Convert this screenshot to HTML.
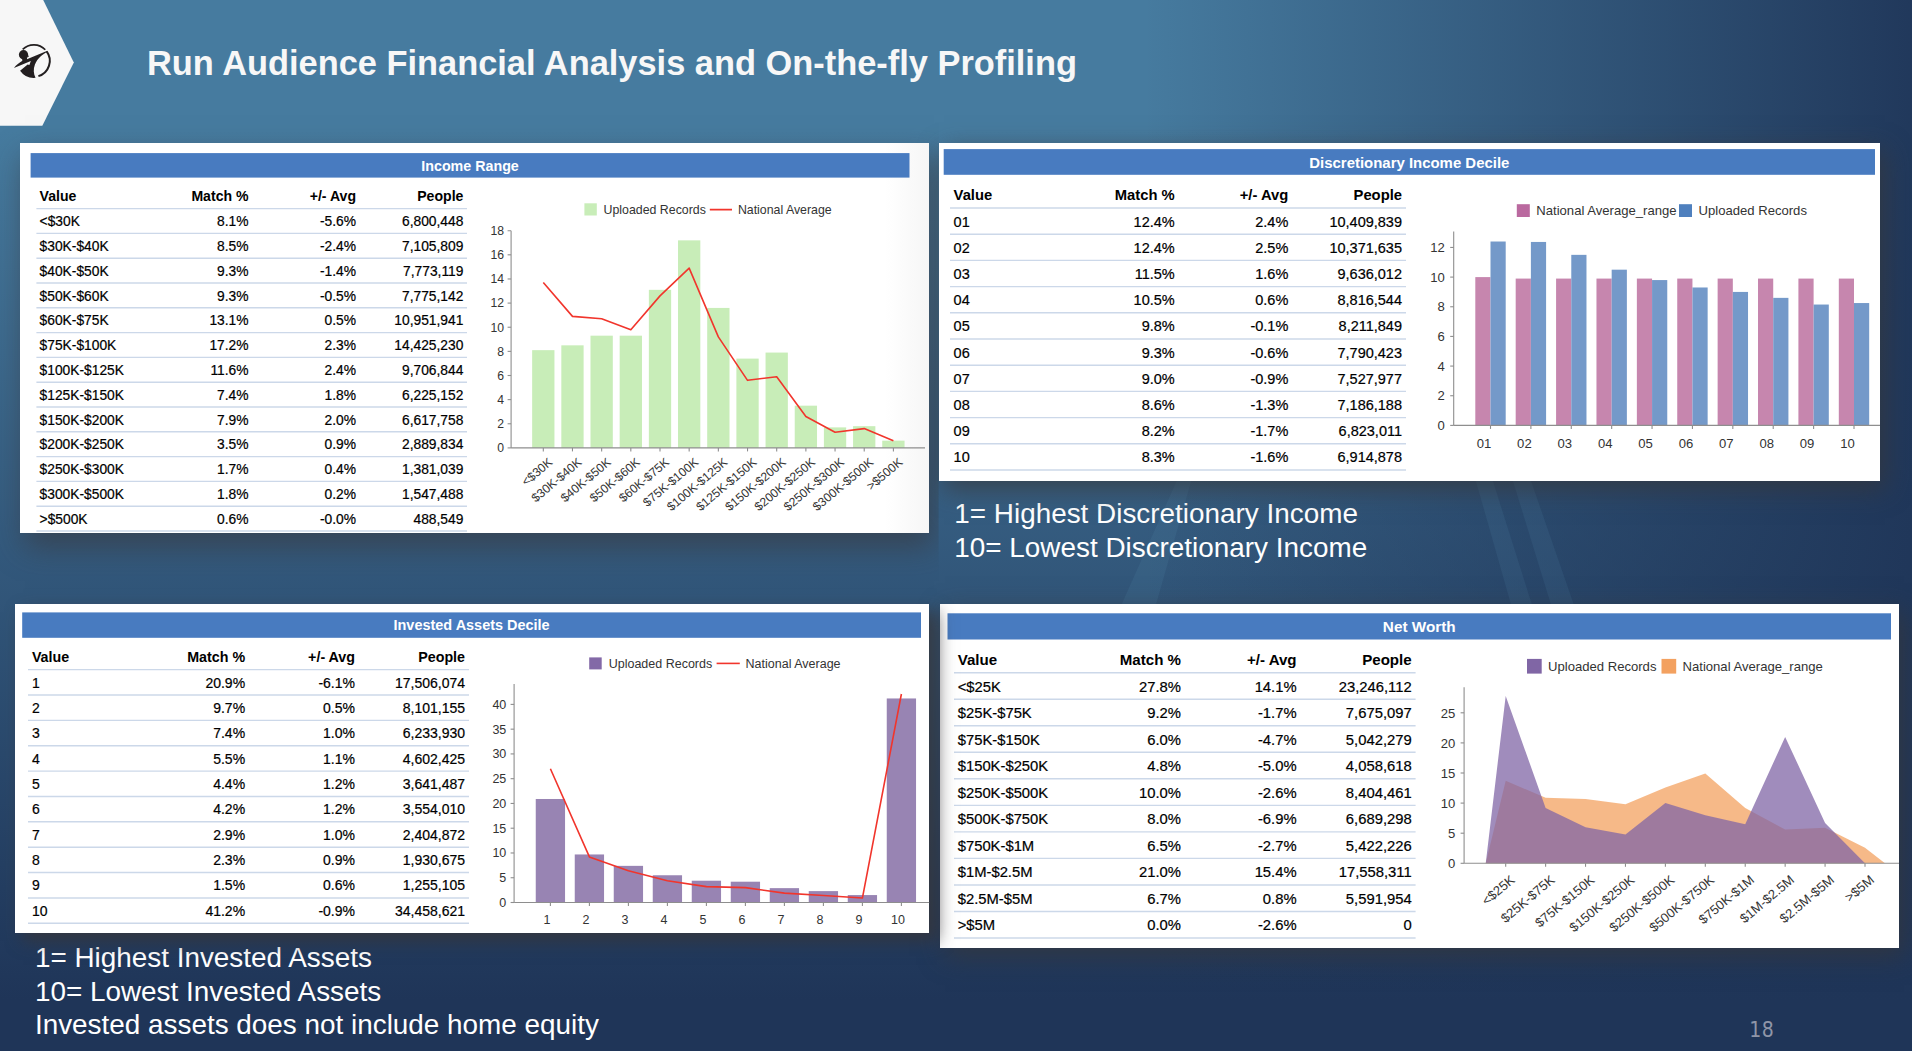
<!DOCTYPE html>
<html lang="en"><head><meta charset="utf-8"><title>Run Audience Financial Analysis and On-the-fly Profiling</title>
<style>
html,body{margin:0;padding:0;}
body{width:1912px;height:1051px;overflow:hidden;position:relative;background:#1f3558;font-family:"Liberation Sans",Arial,Helvetica,sans-serif;}
.abs{position:absolute;}
#bg1{left:0;top:0;width:1912px;height:1051px;background:linear-gradient(to bottom,#467b9f 0px,#467b9f 130px,#1f3558 1000px);}
#bg2{left:0;top:0;width:1912px;height:1051px;background:linear-gradient(to right,rgba(31,53,88,0) 0px,rgba(31,53,88,0) 1144px,rgba(31,53,88,0.95) 1912px);}
.panel{position:absolute;background:#fff;}
.bar{position:absolute;color:#fff;font-weight:bold;text-align:center;white-space:nowrap;}
.cell{position:absolute;white-space:nowrap;color:#000;-webkit-text-stroke:0.2px #000;}
.r{text-align:right;}
.b{font-weight:bold;-webkit-text-stroke:0;}
.note{position:absolute;color:#fff;white-space:nowrap;}
svg{position:absolute;left:0;top:0;overflow:visible;}
svg text{font-family:"Liberation Sans",Arial,Helvetica,sans-serif;fill:#333;}
</style></head>
<body>
<div id="bg1" class="abs"></div><div id="bg2" class="abs"></div>
<svg width="1912" height="1051" viewBox="0 0 1912 1051"><g fill="#6fb0d8" fill-opacity="0.09"><polygon points="1178,478 1192,478 1155,608 1120,608"/><polygon points="1475,478 1492,478 1533,608 1512,608"/><polygon points="1512,478 1530,478 1575,608 1552,608"/></g></svg>
<svg width="80" height="127" viewBox="0 0 80 127"><polygon points="0,0 43.2,0 73.8,62.5 42.3,125.8 0,125.8" fill="#f7f7f7"/><g transform="translate(8 38) scale(0.04566)" fill="#231f20"><path d="M321.9,248.2 A350 350 0 0 1 816.8,256.9" fill="none" stroke="#231f20" stroke-width="38"/><path d="M846.7,292.3 A350 350 0 0 1 665.6,835.2" fill="none" stroke="#231f20" stroke-width="44"/><circle cx="340" cy="367" r="102"/><path d="M400,330 L458,398 L430,425 Z"/><path d="M130,655 C180,590 250,545 300,510 C322,495 320,470 296,450 L420,425 L415,465 L850,283 L862,300 C760,350 640,450 590,580 C550,680 560,790 603,872 A370 370 0 0 1 265,715 L430,582 L468,592 L500,505 Z"/></g></svg>
<div class="abs" id="title" style="left:147px;top:41px;height:44px;line-height:44px;font-size:34.4px;font-weight:bold;color:#f7f7f7;white-space:nowrap;">Run Audience Financial Analysis and On-the-fly Profiling</div>
<div class="panel" id="p1" style="left:20px;top:143px;width:909px;height:390px;z-index:2;box-shadow:5px 14px 28px rgba(56,54,56,0.6);clip-path:inset(-90px -9.6px -90px -90px);background:linear-gradient(to right,#fff 0,#fff 865px,#f6f6f6 100%);">
<svg width="909" height="390" viewBox="20 143 909 390">
<rect x="30.6" y="153.1" width="878.9" height="24.5" fill="#487bc0"/>
<line x1="36.4" y1="208.6" x2="467" y2="208.6" stroke="#ccd8e9" stroke-width="1.4"/>
<line x1="36.4" y1="233.4" x2="467" y2="233.4" stroke="#ccd8e9" stroke-width="1.4"/>
<line x1="36.4" y1="258.2" x2="467" y2="258.2" stroke="#ccd8e9" stroke-width="1.4"/>
<line x1="36.4" y1="283" x2="467" y2="283" stroke="#ccd8e9" stroke-width="1.4"/>
<line x1="36.4" y1="307.8" x2="467" y2="307.8" stroke="#ccd8e9" stroke-width="1.4"/>
<line x1="36.4" y1="332.6" x2="467" y2="332.6" stroke="#ccd8e9" stroke-width="1.4"/>
<line x1="36.4" y1="357.4" x2="467" y2="357.4" stroke="#ccd8e9" stroke-width="1.4"/>
<line x1="36.4" y1="382.2" x2="467" y2="382.2" stroke="#ccd8e9" stroke-width="1.4"/>
<line x1="36.4" y1="407" x2="467" y2="407" stroke="#ccd8e9" stroke-width="1.4"/>
<line x1="36.4" y1="431.8" x2="467" y2="431.8" stroke="#ccd8e9" stroke-width="1.4"/>
<line x1="36.4" y1="456.6" x2="467" y2="456.6" stroke="#ccd8e9" stroke-width="1.4"/>
<line x1="36.4" y1="481.4" x2="467" y2="481.4" stroke="#ccd8e9" stroke-width="1.4"/>
<line x1="36.4" y1="506.2" x2="467" y2="506.2" stroke="#ccd8e9" stroke-width="1.4"/>
<line x1="36.4" y1="531" x2="467" y2="531" stroke="#ccd8e9" stroke-width="1.4"/>
<rect x="532.15" y="350.16" width="22.3" height="97.74" fill="#c8edb8"/>
<rect x="561.32" y="345.33" width="22.3" height="102.57" fill="#c8edb8"/>
<rect x="590.5" y="335.68" width="22.3" height="112.22" fill="#c8edb8"/>
<rect x="619.67" y="335.68" width="22.3" height="112.22" fill="#c8edb8"/>
<rect x="648.85" y="289.83" width="22.3" height="158.07" fill="#c8edb8"/>
<rect x="678.02" y="240.35" width="22.3" height="207.55" fill="#c8edb8"/>
<rect x="707.2" y="307.93" width="22.3" height="139.97" fill="#c8edb8"/>
<rect x="736.38" y="358.61" width="22.3" height="89.29" fill="#c8edb8"/>
<rect x="765.55" y="352.57" width="22.3" height="95.33" fill="#c8edb8"/>
<rect x="794.73" y="405.67" width="22.3" height="42.23" fill="#c8edb8"/>
<rect x="823.9" y="427.39" width="22.3" height="20.51" fill="#c8edb8"/>
<rect x="853.07" y="426.18" width="22.3" height="21.72" fill="#c8edb8"/>
<rect x="882.25" y="440.66" width="22.3" height="7.24" fill="#c8edb8"/>
<line x1="511.1" y1="230.7" x2="511.1" y2="447.9" stroke="#8e8e8e" stroke-width="1.1"/>
<line x1="507.6" y1="447.9" x2="511.1" y2="447.9" stroke="#8e8e8e" stroke-width="1.1"/>
<text x="504" y="452.29" font-size="12.2" text-anchor="end">0</text>
<line x1="507.6" y1="423.77" x2="511.1" y2="423.77" stroke="#8e8e8e" stroke-width="1.1"/>
<text x="504" y="428.16" font-size="12.2" text-anchor="end">2</text>
<line x1="507.6" y1="399.63" x2="511.1" y2="399.63" stroke="#8e8e8e" stroke-width="1.1"/>
<text x="504" y="404.03" font-size="12.2" text-anchor="end">4</text>
<line x1="507.6" y1="375.5" x2="511.1" y2="375.5" stroke="#8e8e8e" stroke-width="1.1"/>
<text x="504" y="379.89" font-size="12.2" text-anchor="end">6</text>
<line x1="507.6" y1="351.37" x2="511.1" y2="351.37" stroke="#8e8e8e" stroke-width="1.1"/>
<text x="504" y="355.76" font-size="12.2" text-anchor="end">8</text>
<line x1="507.6" y1="327.23" x2="511.1" y2="327.23" stroke="#8e8e8e" stroke-width="1.1"/>
<text x="504" y="331.63" font-size="12.2" text-anchor="end">10</text>
<line x1="507.6" y1="303.1" x2="511.1" y2="303.1" stroke="#8e8e8e" stroke-width="1.1"/>
<text x="504" y="307.49" font-size="12.2" text-anchor="end">12</text>
<line x1="507.6" y1="278.97" x2="511.1" y2="278.97" stroke="#8e8e8e" stroke-width="1.1"/>
<text x="504" y="283.36" font-size="12.2" text-anchor="end">14</text>
<line x1="507.6" y1="254.83" x2="511.1" y2="254.83" stroke="#8e8e8e" stroke-width="1.1"/>
<text x="504" y="259.23" font-size="12.2" text-anchor="end">16</text>
<line x1="507.6" y1="230.7" x2="511.1" y2="230.7" stroke="#8e8e8e" stroke-width="1.1"/>
<text x="504" y="235.09" font-size="12.2" text-anchor="end">18</text>
<line x1="511.1" y1="447.9" x2="925" y2="447.9" stroke="#8e8e8e" stroke-width="1.1"/>
<line x1="543.3" y1="447.9" x2="543.3" y2="451.4" stroke="#8e8e8e" stroke-width="1.1"/>
<line x1="572.47" y1="447.9" x2="572.47" y2="451.4" stroke="#8e8e8e" stroke-width="1.1"/>
<line x1="601.65" y1="447.9" x2="601.65" y2="451.4" stroke="#8e8e8e" stroke-width="1.1"/>
<line x1="630.82" y1="447.9" x2="630.82" y2="451.4" stroke="#8e8e8e" stroke-width="1.1"/>
<line x1="660" y1="447.9" x2="660" y2="451.4" stroke="#8e8e8e" stroke-width="1.1"/>
<line x1="689.17" y1="447.9" x2="689.17" y2="451.4" stroke="#8e8e8e" stroke-width="1.1"/>
<line x1="718.35" y1="447.9" x2="718.35" y2="451.4" stroke="#8e8e8e" stroke-width="1.1"/>
<line x1="747.52" y1="447.9" x2="747.52" y2="451.4" stroke="#8e8e8e" stroke-width="1.1"/>
<line x1="776.7" y1="447.9" x2="776.7" y2="451.4" stroke="#8e8e8e" stroke-width="1.1"/>
<line x1="805.88" y1="447.9" x2="805.88" y2="451.4" stroke="#8e8e8e" stroke-width="1.1"/>
<line x1="835.05" y1="447.9" x2="835.05" y2="451.4" stroke="#8e8e8e" stroke-width="1.1"/>
<line x1="864.22" y1="447.9" x2="864.22" y2="451.4" stroke="#8e8e8e" stroke-width="1.1"/>
<line x1="893.4" y1="447.9" x2="893.4" y2="451.4" stroke="#8e8e8e" stroke-width="1.1"/>
<polyline fill="none" stroke="#f1352c" stroke-width="1.6" stroke-linejoin="round" points="543.3,282.59 572.47,316.37 601.65,318.79 630.82,329.65 660,295.86 689.17,268.11 718.35,336.89 747.52,380.33 776.7,376.71 805.88,416.53 835.05,432.21 864.22,428.59 893.4,440.66"/>
<text transform="translate(553.3 463.6) rotate(-40)" font-size="12.2" text-anchor="end">&lt;$30K</text>
<text transform="translate(582.47 463.6) rotate(-40)" font-size="12.2" text-anchor="end">$30K-$40K</text>
<text transform="translate(611.65 463.6) rotate(-40)" font-size="12.2" text-anchor="end">$40K-$50K</text>
<text transform="translate(640.82 463.6) rotate(-40)" font-size="12.2" text-anchor="end">$50K-$60K</text>
<text transform="translate(670 463.6) rotate(-40)" font-size="12.2" text-anchor="end">$60K-$75K</text>
<text transform="translate(699.17 463.6) rotate(-40)" font-size="12.2" text-anchor="end">$75K-$100K</text>
<text transform="translate(728.35 463.6) rotate(-40)" font-size="12.2" text-anchor="end">$100K-$125K</text>
<text transform="translate(757.52 463.6) rotate(-40)" font-size="12.2" text-anchor="end">$125K-$150K</text>
<text transform="translate(786.7 463.6) rotate(-40)" font-size="12.2" text-anchor="end">$150K-$200K</text>
<text transform="translate(815.88 463.6) rotate(-40)" font-size="12.2" text-anchor="end">$200K-$250K</text>
<text transform="translate(845.05 463.6) rotate(-40)" font-size="12.2" text-anchor="end">$250K-$300K</text>
<text transform="translate(874.22 463.6) rotate(-40)" font-size="12.2" text-anchor="end">$300K-$500K</text>
<text transform="translate(903.4 463.6) rotate(-40)" font-size="12.2" text-anchor="end">&gt;$500K</text>
<rect x="584.4" y="203.3" width="12.4" height="12.2" fill="#c8edb8"/>
<text x="603.6" y="213.8" font-size="12.35">Uploaded Records</text>
<line x1="709.8" y1="209.6" x2="732" y2="209.6" stroke="#f1352c" stroke-width="1.6"/>
<text x="737.9" y="213.8" font-size="12.35">National Average</text>
</svg>
<div class="bar" style="left:10.6px;top:10.8px;width:878.9px;height:24.5px;line-height:24.5px;font-size:14.27px;">Income Range</div>
<div class="cell b" style="left:19.6px;top:40.6px;height:24.8px;line-height:24.8px;font-size:14.08px;">Value</div>
<div class="cell b r" style="left:108.5px;width:120px;top:40.6px;height:24.8px;line-height:24.8px;font-size:14.08px;">Match %</div>
<div class="cell b r" style="left:216px;width:120px;top:40.6px;height:24.8px;line-height:24.8px;font-size:14.08px;">+/- Avg</div>
<div class="cell b r" style="left:323.4px;width:120px;top:40.6px;height:24.8px;line-height:24.8px;font-size:14.08px;">People</div>
<div class="cell" style="left:19.6px;top:67.4px;height:24.8px;line-height:24.8px;font-size:13.8px;">&lt;$30K</div>
<div class="cell r" style="left:108.5px;width:120px;top:67.4px;height:24.8px;line-height:24.8px;font-size:13.8px;">8.1%</div>
<div class="cell r" style="left:216px;width:120px;top:67.4px;height:24.8px;line-height:24.8px;font-size:13.8px;">-5.6%</div>
<div class="cell r" style="left:323.4px;width:120px;top:67.4px;height:24.8px;line-height:24.8px;font-size:13.8px;">6,800,448</div>
<div class="cell" style="left:19.6px;top:92.2px;height:24.8px;line-height:24.8px;font-size:13.8px;">$30K-$40K</div>
<div class="cell r" style="left:108.5px;width:120px;top:92.2px;height:24.8px;line-height:24.8px;font-size:13.8px;">8.5%</div>
<div class="cell r" style="left:216px;width:120px;top:92.2px;height:24.8px;line-height:24.8px;font-size:13.8px;">-2.4%</div>
<div class="cell r" style="left:323.4px;width:120px;top:92.2px;height:24.8px;line-height:24.8px;font-size:13.8px;">7,105,809</div>
<div class="cell" style="left:19.6px;top:117px;height:24.8px;line-height:24.8px;font-size:13.8px;">$40K-$50K</div>
<div class="cell r" style="left:108.5px;width:120px;top:117px;height:24.8px;line-height:24.8px;font-size:13.8px;">9.3%</div>
<div class="cell r" style="left:216px;width:120px;top:117px;height:24.8px;line-height:24.8px;font-size:13.8px;">-1.4%</div>
<div class="cell r" style="left:323.4px;width:120px;top:117px;height:24.8px;line-height:24.8px;font-size:13.8px;">7,773,119</div>
<div class="cell" style="left:19.6px;top:141.8px;height:24.8px;line-height:24.8px;font-size:13.8px;">$50K-$60K</div>
<div class="cell r" style="left:108.5px;width:120px;top:141.8px;height:24.8px;line-height:24.8px;font-size:13.8px;">9.3%</div>
<div class="cell r" style="left:216px;width:120px;top:141.8px;height:24.8px;line-height:24.8px;font-size:13.8px;">-0.5%</div>
<div class="cell r" style="left:323.4px;width:120px;top:141.8px;height:24.8px;line-height:24.8px;font-size:13.8px;">7,775,142</div>
<div class="cell" style="left:19.6px;top:165.6px;height:24.8px;line-height:24.8px;font-size:13.8px;">$60K-$75K</div>
<div class="cell r" style="left:108.5px;width:120px;top:165.6px;height:24.8px;line-height:24.8px;font-size:13.8px;">13.1%</div>
<div class="cell r" style="left:216px;width:120px;top:165.6px;height:24.8px;line-height:24.8px;font-size:13.8px;">0.5%</div>
<div class="cell r" style="left:323.4px;width:120px;top:165.6px;height:24.8px;line-height:24.8px;font-size:13.8px;">10,951,941</div>
<div class="cell" style="left:19.6px;top:191.4px;height:24.8px;line-height:24.8px;font-size:13.8px;">$75K-$100K</div>
<div class="cell r" style="left:108.5px;width:120px;top:191.4px;height:24.8px;line-height:24.8px;font-size:13.8px;">17.2%</div>
<div class="cell r" style="left:216px;width:120px;top:191.4px;height:24.8px;line-height:24.8px;font-size:13.8px;">2.3%</div>
<div class="cell r" style="left:323.4px;width:120px;top:191.4px;height:24.8px;line-height:24.8px;font-size:13.8px;">14,425,230</div>
<div class="cell" style="left:19.6px;top:216.2px;height:24.8px;line-height:24.8px;font-size:13.8px;">$100K-$125K</div>
<div class="cell r" style="left:108.5px;width:120px;top:216.2px;height:24.8px;line-height:24.8px;font-size:13.8px;">11.6%</div>
<div class="cell r" style="left:216px;width:120px;top:216.2px;height:24.8px;line-height:24.8px;font-size:13.8px;">2.4%</div>
<div class="cell r" style="left:323.4px;width:120px;top:216.2px;height:24.8px;line-height:24.8px;font-size:13.8px;">9,706,844</div>
<div class="cell" style="left:19.6px;top:241px;height:24.8px;line-height:24.8px;font-size:13.8px;">$125K-$150K</div>
<div class="cell r" style="left:108.5px;width:120px;top:241px;height:24.8px;line-height:24.8px;font-size:13.8px;">7.4%</div>
<div class="cell r" style="left:216px;width:120px;top:241px;height:24.8px;line-height:24.8px;font-size:13.8px;">1.8%</div>
<div class="cell r" style="left:323.4px;width:120px;top:241px;height:24.8px;line-height:24.8px;font-size:13.8px;">6,225,152</div>
<div class="cell" style="left:19.6px;top:265.8px;height:24.8px;line-height:24.8px;font-size:13.8px;">$150K-$200K</div>
<div class="cell r" style="left:108.5px;width:120px;top:265.8px;height:24.8px;line-height:24.8px;font-size:13.8px;">7.9%</div>
<div class="cell r" style="left:216px;width:120px;top:265.8px;height:24.8px;line-height:24.8px;font-size:13.8px;">2.0%</div>
<div class="cell r" style="left:323.4px;width:120px;top:265.8px;height:24.8px;line-height:24.8px;font-size:13.8px;">6,617,758</div>
<div class="cell" style="left:19.6px;top:289.6px;height:24.8px;line-height:24.8px;font-size:13.8px;">$200K-$250K</div>
<div class="cell r" style="left:108.5px;width:120px;top:289.6px;height:24.8px;line-height:24.8px;font-size:13.8px;">3.5%</div>
<div class="cell r" style="left:216px;width:120px;top:289.6px;height:24.8px;line-height:24.8px;font-size:13.8px;">0.9%</div>
<div class="cell r" style="left:323.4px;width:120px;top:289.6px;height:24.8px;line-height:24.8px;font-size:13.8px;">2,889,834</div>
<div class="cell" style="left:19.6px;top:315.4px;height:24.8px;line-height:24.8px;font-size:13.8px;">$250K-$300K</div>
<div class="cell r" style="left:108.5px;width:120px;top:315.4px;height:24.8px;line-height:24.8px;font-size:13.8px;">1.7%</div>
<div class="cell r" style="left:216px;width:120px;top:315.4px;height:24.8px;line-height:24.8px;font-size:13.8px;">0.4%</div>
<div class="cell r" style="left:323.4px;width:120px;top:315.4px;height:24.8px;line-height:24.8px;font-size:13.8px;">1,381,039</div>
<div class="cell" style="left:19.6px;top:340.2px;height:24.8px;line-height:24.8px;font-size:13.8px;">$300K-$500K</div>
<div class="cell r" style="left:108.5px;width:120px;top:340.2px;height:24.8px;line-height:24.8px;font-size:13.8px;">1.8%</div>
<div class="cell r" style="left:216px;width:120px;top:340.2px;height:24.8px;line-height:24.8px;font-size:13.8px;">0.2%</div>
<div class="cell r" style="left:323.4px;width:120px;top:340.2px;height:24.8px;line-height:24.8px;font-size:13.8px;">1,547,488</div>
<div class="cell" style="left:19.6px;top:365px;height:24.8px;line-height:24.8px;font-size:13.8px;">&gt;$500K</div>
<div class="cell r" style="left:108.5px;width:120px;top:365px;height:24.8px;line-height:24.8px;font-size:13.8px;">0.6%</div>
<div class="cell r" style="left:216px;width:120px;top:365px;height:24.8px;line-height:24.8px;font-size:13.8px;">-0.0%</div>
<div class="cell r" style="left:323.4px;width:120px;top:365px;height:24.8px;line-height:24.8px;font-size:13.8px;">488,549</div>
</div>
<div class="panel" id="p2" style="left:939px;top:143px;width:941px;height:338px;z-index:1;box-shadow:5px 8px 24px rgba(56,54,56,0.7);">
<svg width="941" height="338" viewBox="939 143 941 338">
<rect x="943.7" y="149.1" width="931.3" height="25.7" fill="#487bc0"/>
<line x1="950" y1="208" x2="1406" y2="208" stroke="#ccd8e9" stroke-width="1.4"/>
<line x1="950" y1="234.2" x2="1406" y2="234.2" stroke="#ccd8e9" stroke-width="1.4"/>
<line x1="950" y1="260.4" x2="1406" y2="260.4" stroke="#ccd8e9" stroke-width="1.4"/>
<line x1="950" y1="286.6" x2="1406" y2="286.6" stroke="#ccd8e9" stroke-width="1.4"/>
<line x1="950" y1="312.8" x2="1406" y2="312.8" stroke="#ccd8e9" stroke-width="1.4"/>
<line x1="950" y1="339" x2="1406" y2="339" stroke="#ccd8e9" stroke-width="1.4"/>
<line x1="950" y1="365.2" x2="1406" y2="365.2" stroke="#ccd8e9" stroke-width="1.4"/>
<line x1="950" y1="391.4" x2="1406" y2="391.4" stroke="#ccd8e9" stroke-width="1.4"/>
<line x1="950" y1="417.6" x2="1406" y2="417.6" stroke="#ccd8e9" stroke-width="1.4"/>
<line x1="950" y1="443.8" x2="1406" y2="443.8" stroke="#ccd8e9" stroke-width="1.4"/>
<line x1="950" y1="470" x2="1406" y2="470" stroke="#ccd8e9" stroke-width="1.4"/>
<rect x="1475.3" y="277.1" width="15.2" height="148.3" fill="#c686ae"/>
<rect x="1490.5" y="241.51" width="15.2" height="183.89" fill="#7499c9"/>
<rect x="1515.69" y="278.58" width="15.2" height="146.82" fill="#c686ae"/>
<rect x="1530.89" y="241.95" width="15.2" height="183.45" fill="#7499c9"/>
<rect x="1556.08" y="278.58" width="15.2" height="146.82" fill="#c686ae"/>
<rect x="1571.28" y="254.85" width="15.2" height="170.54" fill="#7499c9"/>
<rect x="1596.47" y="278.58" width="15.2" height="146.82" fill="#c686ae"/>
<rect x="1611.67" y="269.68" width="15.2" height="155.72" fill="#7499c9"/>
<rect x="1636.86" y="278.58" width="15.2" height="146.82" fill="#c686ae"/>
<rect x="1652.06" y="280.07" width="15.2" height="145.33" fill="#7499c9"/>
<rect x="1677.24" y="278.58" width="15.2" height="146.82" fill="#c686ae"/>
<rect x="1692.44" y="287.48" width="15.2" height="137.92" fill="#7499c9"/>
<rect x="1717.63" y="278.58" width="15.2" height="146.82" fill="#c686ae"/>
<rect x="1732.83" y="291.93" width="15.2" height="133.47" fill="#7499c9"/>
<rect x="1758.02" y="278.58" width="15.2" height="146.82" fill="#c686ae"/>
<rect x="1773.22" y="297.86" width="15.2" height="127.54" fill="#7499c9"/>
<rect x="1798.41" y="278.58" width="15.2" height="146.82" fill="#c686ae"/>
<rect x="1813.61" y="304.54" width="15.2" height="120.86" fill="#7499c9"/>
<rect x="1838.8" y="278.58" width="15.2" height="146.82" fill="#c686ae"/>
<rect x="1854" y="303.05" width="15.2" height="122.35" fill="#7499c9"/>
<line x1="1453.7" y1="231.6" x2="1453.7" y2="425.4" stroke="#8e8e8e" stroke-width="1.1"/>
<line x1="1450.2" y1="425.4" x2="1453.7" y2="425.4" stroke="#8e8e8e" stroke-width="1.1"/>
<text x="1444.8" y="430.12" font-size="13.1" text-anchor="end">0</text>
<line x1="1450.2" y1="395.74" x2="1453.7" y2="395.74" stroke="#8e8e8e" stroke-width="1.1"/>
<text x="1444.8" y="400.46" font-size="13.1" text-anchor="end">2</text>
<line x1="1450.2" y1="366.08" x2="1453.7" y2="366.08" stroke="#8e8e8e" stroke-width="1.1"/>
<text x="1444.8" y="370.8" font-size="13.1" text-anchor="end">4</text>
<line x1="1450.2" y1="336.42" x2="1453.7" y2="336.42" stroke="#8e8e8e" stroke-width="1.1"/>
<text x="1444.8" y="341.14" font-size="13.1" text-anchor="end">6</text>
<line x1="1450.2" y1="306.76" x2="1453.7" y2="306.76" stroke="#8e8e8e" stroke-width="1.1"/>
<text x="1444.8" y="311.48" font-size="13.1" text-anchor="end">8</text>
<line x1="1450.2" y1="277.1" x2="1453.7" y2="277.1" stroke="#8e8e8e" stroke-width="1.1"/>
<text x="1444.8" y="281.82" font-size="13.1" text-anchor="end">10</text>
<line x1="1450.2" y1="247.44" x2="1453.7" y2="247.44" stroke="#8e8e8e" stroke-width="1.1"/>
<text x="1444.8" y="252.16" font-size="13.1" text-anchor="end">12</text>
<line x1="1453.7" y1="425.4" x2="1880" y2="425.4" stroke="#8e8e8e" stroke-width="1.1"/>
<line x1="1490.5" y1="425.4" x2="1490.5" y2="428.9" stroke="#8e8e8e" stroke-width="1.1"/>
<line x1="1530.89" y1="425.4" x2="1530.89" y2="428.9" stroke="#8e8e8e" stroke-width="1.1"/>
<line x1="1571.28" y1="425.4" x2="1571.28" y2="428.9" stroke="#8e8e8e" stroke-width="1.1"/>
<line x1="1611.67" y1="425.4" x2="1611.67" y2="428.9" stroke="#8e8e8e" stroke-width="1.1"/>
<line x1="1652.06" y1="425.4" x2="1652.06" y2="428.9" stroke="#8e8e8e" stroke-width="1.1"/>
<line x1="1692.44" y1="425.4" x2="1692.44" y2="428.9" stroke="#8e8e8e" stroke-width="1.1"/>
<line x1="1732.83" y1="425.4" x2="1732.83" y2="428.9" stroke="#8e8e8e" stroke-width="1.1"/>
<line x1="1773.22" y1="425.4" x2="1773.22" y2="428.9" stroke="#8e8e8e" stroke-width="1.1"/>
<line x1="1813.61" y1="425.4" x2="1813.61" y2="428.9" stroke="#8e8e8e" stroke-width="1.1"/>
<line x1="1854" y1="425.4" x2="1854" y2="428.9" stroke="#8e8e8e" stroke-width="1.1"/>
<text x="1484" y="448.4" font-size="13.1" text-anchor="middle">01</text>
<text x="1524.39" y="448.4" font-size="13.1" text-anchor="middle">02</text>
<text x="1564.78" y="448.4" font-size="13.1" text-anchor="middle">03</text>
<text x="1605.17" y="448.4" font-size="13.1" text-anchor="middle">04</text>
<text x="1645.56" y="448.4" font-size="13.1" text-anchor="middle">05</text>
<text x="1685.94" y="448.4" font-size="13.1" text-anchor="middle">06</text>
<text x="1726.33" y="448.4" font-size="13.1" text-anchor="middle">07</text>
<text x="1766.72" y="448.4" font-size="13.1" text-anchor="middle">08</text>
<text x="1807.11" y="448.4" font-size="13.1" text-anchor="middle">09</text>
<text x="1847.5" y="448.4" font-size="13.1" text-anchor="middle">10</text>
<rect x="1516.8" y="204.2" width="13" height="12.8" fill="#ba699f"/>
<text x="1536.3" y="215.2" font-size="13.1">National Average_range</text>
<rect x="1679" y="204.2" width="13" height="12.8" fill="#4f80be"/>
<text x="1698.5" y="215.2" font-size="13.1">Uploaded Records</text>
</svg>
<div class="bar" style="left:4.7px;top:6.8px;width:931.3px;height:25.7px;line-height:25.7px;font-size:14.95px;">Discretionary Income Decile</div>
<div class="cell b" style="left:14.6px;top:38.6px;height:26.2px;line-height:26.2px;font-size:14.79px;">Value</div>
<div class="cell b r" style="left:115.7px;width:120px;top:38.6px;height:26.2px;line-height:26.2px;font-size:14.79px;">Match %</div>
<div class="cell b r" style="left:229.3px;width:120px;top:38.6px;height:26.2px;line-height:26.2px;font-size:14.79px;">+/- Avg</div>
<div class="cell b r" style="left:343px;width:120px;top:38.6px;height:26.2px;line-height:26.2px;font-size:14.79px;">People</div>
<div class="cell" style="left:14.6px;top:65.8px;height:26.2px;line-height:26.2px;font-size:14.5px;">01</div>
<div class="cell r" style="left:115.7px;width:120px;top:65.8px;height:26.2px;line-height:26.2px;font-size:14.5px;">12.4%</div>
<div class="cell r" style="left:229.3px;width:120px;top:65.8px;height:26.2px;line-height:26.2px;font-size:14.5px;">2.4%</div>
<div class="cell r" style="left:343px;width:120px;top:65.8px;height:26.2px;line-height:26.2px;font-size:14.5px;">10,409,839</div>
<div class="cell" style="left:14.6px;top:92px;height:26.2px;line-height:26.2px;font-size:14.5px;">02</div>
<div class="cell r" style="left:115.7px;width:120px;top:92px;height:26.2px;line-height:26.2px;font-size:14.5px;">12.4%</div>
<div class="cell r" style="left:229.3px;width:120px;top:92px;height:26.2px;line-height:26.2px;font-size:14.5px;">2.5%</div>
<div class="cell r" style="left:343px;width:120px;top:92px;height:26.2px;line-height:26.2px;font-size:14.5px;">10,371,635</div>
<div class="cell" style="left:14.6px;top:118.2px;height:26.2px;line-height:26.2px;font-size:14.5px;">03</div>
<div class="cell r" style="left:115.7px;width:120px;top:118.2px;height:26.2px;line-height:26.2px;font-size:14.5px;">11.5%</div>
<div class="cell r" style="left:229.3px;width:120px;top:118.2px;height:26.2px;line-height:26.2px;font-size:14.5px;">1.6%</div>
<div class="cell r" style="left:343px;width:120px;top:118.2px;height:26.2px;line-height:26.2px;font-size:14.5px;">9,636,012</div>
<div class="cell" style="left:14.6px;top:144.4px;height:26.2px;line-height:26.2px;font-size:14.5px;">04</div>
<div class="cell r" style="left:115.7px;width:120px;top:144.4px;height:26.2px;line-height:26.2px;font-size:14.5px;">10.5%</div>
<div class="cell r" style="left:229.3px;width:120px;top:144.4px;height:26.2px;line-height:26.2px;font-size:14.5px;">0.6%</div>
<div class="cell r" style="left:343px;width:120px;top:144.4px;height:26.2px;line-height:26.2px;font-size:14.5px;">8,816,544</div>
<div class="cell" style="left:14.6px;top:169.6px;height:26.2px;line-height:26.2px;font-size:14.5px;">05</div>
<div class="cell r" style="left:115.7px;width:120px;top:169.6px;height:26.2px;line-height:26.2px;font-size:14.5px;">9.8%</div>
<div class="cell r" style="left:229.3px;width:120px;top:169.6px;height:26.2px;line-height:26.2px;font-size:14.5px;">-0.1%</div>
<div class="cell r" style="left:343px;width:120px;top:169.6px;height:26.2px;line-height:26.2px;font-size:14.5px;">8,211,849</div>
<div class="cell" style="left:14.6px;top:196.8px;height:26.2px;line-height:26.2px;font-size:14.5px;">06</div>
<div class="cell r" style="left:115.7px;width:120px;top:196.8px;height:26.2px;line-height:26.2px;font-size:14.5px;">9.3%</div>
<div class="cell r" style="left:229.3px;width:120px;top:196.8px;height:26.2px;line-height:26.2px;font-size:14.5px;">-0.6%</div>
<div class="cell r" style="left:343px;width:120px;top:196.8px;height:26.2px;line-height:26.2px;font-size:14.5px;">7,790,423</div>
<div class="cell" style="left:14.6px;top:223px;height:26.2px;line-height:26.2px;font-size:14.5px;">07</div>
<div class="cell r" style="left:115.7px;width:120px;top:223px;height:26.2px;line-height:26.2px;font-size:14.5px;">9.0%</div>
<div class="cell r" style="left:229.3px;width:120px;top:223px;height:26.2px;line-height:26.2px;font-size:14.5px;">-0.9%</div>
<div class="cell r" style="left:343px;width:120px;top:223px;height:26.2px;line-height:26.2px;font-size:14.5px;">7,527,977</div>
<div class="cell" style="left:14.6px;top:249.2px;height:26.2px;line-height:26.2px;font-size:14.5px;">08</div>
<div class="cell r" style="left:115.7px;width:120px;top:249.2px;height:26.2px;line-height:26.2px;font-size:14.5px;">8.6%</div>
<div class="cell r" style="left:229.3px;width:120px;top:249.2px;height:26.2px;line-height:26.2px;font-size:14.5px;">-1.3%</div>
<div class="cell r" style="left:343px;width:120px;top:249.2px;height:26.2px;line-height:26.2px;font-size:14.5px;">7,186,188</div>
<div class="cell" style="left:14.6px;top:275.4px;height:26.2px;line-height:26.2px;font-size:14.5px;">09</div>
<div class="cell r" style="left:115.7px;width:120px;top:275.4px;height:26.2px;line-height:26.2px;font-size:14.5px;">8.2%</div>
<div class="cell r" style="left:229.3px;width:120px;top:275.4px;height:26.2px;line-height:26.2px;font-size:14.5px;">-1.7%</div>
<div class="cell r" style="left:343px;width:120px;top:275.4px;height:26.2px;line-height:26.2px;font-size:14.5px;">6,823,011</div>
<div class="cell" style="left:14.6px;top:300.6px;height:26.2px;line-height:26.2px;font-size:14.5px;">10</div>
<div class="cell r" style="left:115.7px;width:120px;top:300.6px;height:26.2px;line-height:26.2px;font-size:14.5px;">8.3%</div>
<div class="cell r" style="left:229.3px;width:120px;top:300.6px;height:26.2px;line-height:26.2px;font-size:14.5px;">-1.6%</div>
<div class="cell r" style="left:343px;width:120px;top:300.6px;height:26.2px;line-height:26.2px;font-size:14.5px;">6,914,878</div>
</div>
<div class="panel" id="p3" style="left:15px;top:604px;width:914px;height:329px;z-index:2;box-shadow:8px 8px 16px rgba(56,54,56,0.8);">
<svg width="914" height="329" viewBox="15 604 914 329">
<rect x="22.2" y="612.4" width="898.8" height="25.4" fill="#487bc0"/>
<line x1="28" y1="669.6" x2="469" y2="669.6" stroke="#ccd8e9" stroke-width="1.4"/>
<line x1="28" y1="694.97" x2="469" y2="694.97" stroke="#ccd8e9" stroke-width="1.4"/>
<line x1="28" y1="720.34" x2="469" y2="720.34" stroke="#ccd8e9" stroke-width="1.4"/>
<line x1="28" y1="745.71" x2="469" y2="745.71" stroke="#ccd8e9" stroke-width="1.4"/>
<line x1="28" y1="771.08" x2="469" y2="771.08" stroke="#ccd8e9" stroke-width="1.4"/>
<line x1="28" y1="796.45" x2="469" y2="796.45" stroke="#ccd8e9" stroke-width="1.4"/>
<line x1="28" y1="821.82" x2="469" y2="821.82" stroke="#ccd8e9" stroke-width="1.4"/>
<line x1="28" y1="847.19" x2="469" y2="847.19" stroke="#ccd8e9" stroke-width="1.4"/>
<line x1="28" y1="872.56" x2="469" y2="872.56" stroke="#ccd8e9" stroke-width="1.4"/>
<line x1="28" y1="897.93" x2="469" y2="897.93" stroke="#ccd8e9" stroke-width="1.4"/>
<line x1="28" y1="923.3" x2="469" y2="923.3" stroke="#ccd8e9" stroke-width="1.4"/>
<rect x="535.75" y="798.99" width="29.3" height="103.51" fill="#9884b3"/>
<rect x="574.75" y="854.46" width="29.3" height="48.04" fill="#9884b3"/>
<rect x="613.75" y="865.85" width="29.3" height="36.65" fill="#9884b3"/>
<rect x="652.75" y="875.26" width="29.3" height="27.24" fill="#9884b3"/>
<rect x="691.75" y="880.71" width="29.3" height="21.79" fill="#9884b3"/>
<rect x="730.75" y="881.7" width="29.3" height="20.8" fill="#9884b3"/>
<rect x="769.75" y="888.14" width="29.3" height="14.36" fill="#9884b3"/>
<rect x="808.75" y="891.11" width="29.3" height="11.39" fill="#9884b3"/>
<rect x="847.75" y="895.07" width="29.3" height="7.43" fill="#9884b3"/>
<rect x="886.75" y="698.46" width="29.3" height="204.04" fill="#9884b3"/>
<line x1="514.1" y1="684.1" x2="514.1" y2="902.5" stroke="#8e8e8e" stroke-width="1.1"/>
<line x1="510.6" y1="902.5" x2="514.1" y2="902.5" stroke="#8e8e8e" stroke-width="1.1"/>
<text x="506.3" y="907" font-size="12.5" text-anchor="end">0</text>
<line x1="510.6" y1="877.74" x2="514.1" y2="877.74" stroke="#8e8e8e" stroke-width="1.1"/>
<text x="506.3" y="882.24" font-size="12.5" text-anchor="end">5</text>
<line x1="510.6" y1="852.98" x2="514.1" y2="852.98" stroke="#8e8e8e" stroke-width="1.1"/>
<text x="506.3" y="857.48" font-size="12.5" text-anchor="end">10</text>
<line x1="510.6" y1="828.21" x2="514.1" y2="828.21" stroke="#8e8e8e" stroke-width="1.1"/>
<text x="506.3" y="832.71" font-size="12.5" text-anchor="end">15</text>
<line x1="510.6" y1="803.45" x2="514.1" y2="803.45" stroke="#8e8e8e" stroke-width="1.1"/>
<text x="506.3" y="807.95" font-size="12.5" text-anchor="end">20</text>
<line x1="510.6" y1="778.69" x2="514.1" y2="778.69" stroke="#8e8e8e" stroke-width="1.1"/>
<text x="506.3" y="783.19" font-size="12.5" text-anchor="end">25</text>
<line x1="510.6" y1="753.92" x2="514.1" y2="753.92" stroke="#8e8e8e" stroke-width="1.1"/>
<text x="506.3" y="758.42" font-size="12.5" text-anchor="end">30</text>
<line x1="510.6" y1="729.16" x2="514.1" y2="729.16" stroke="#8e8e8e" stroke-width="1.1"/>
<text x="506.3" y="733.66" font-size="12.5" text-anchor="end">35</text>
<line x1="510.6" y1="704.4" x2="514.1" y2="704.4" stroke="#8e8e8e" stroke-width="1.1"/>
<text x="506.3" y="708.9" font-size="12.5" text-anchor="end">40</text>
<line x1="514.1" y1="902.5" x2="929.2" y2="902.5" stroke="#8e8e8e" stroke-width="1.1"/>
<line x1="550.4" y1="902.5" x2="550.4" y2="906" stroke="#8e8e8e" stroke-width="1.1"/>
<line x1="589.4" y1="902.5" x2="589.4" y2="906" stroke="#8e8e8e" stroke-width="1.1"/>
<line x1="628.4" y1="902.5" x2="628.4" y2="906" stroke="#8e8e8e" stroke-width="1.1"/>
<line x1="667.4" y1="902.5" x2="667.4" y2="906" stroke="#8e8e8e" stroke-width="1.1"/>
<line x1="706.4" y1="902.5" x2="706.4" y2="906" stroke="#8e8e8e" stroke-width="1.1"/>
<line x1="745.4" y1="902.5" x2="745.4" y2="906" stroke="#8e8e8e" stroke-width="1.1"/>
<line x1="784.4" y1="902.5" x2="784.4" y2="906" stroke="#8e8e8e" stroke-width="1.1"/>
<line x1="823.4" y1="902.5" x2="823.4" y2="906" stroke="#8e8e8e" stroke-width="1.1"/>
<line x1="862.4" y1="902.5" x2="862.4" y2="906" stroke="#8e8e8e" stroke-width="1.1"/>
<line x1="901.4" y1="902.5" x2="901.4" y2="906" stroke="#8e8e8e" stroke-width="1.1"/>
<polyline fill="none" stroke="#f1352c" stroke-width="1.6" stroke-linejoin="round" points="550.4,768.78 589.4,856.94 628.4,870.8 667.4,880.71 706.4,886.65 745.4,887.64 784.4,893.09 823.4,895.57 862.4,898.04 901.4,694"/>
<text x="546.9" y="924.3" font-size="12.5" text-anchor="middle">1</text>
<text x="585.9" y="924.3" font-size="12.5" text-anchor="middle">2</text>
<text x="624.9" y="924.3" font-size="12.5" text-anchor="middle">3</text>
<text x="663.9" y="924.3" font-size="12.5" text-anchor="middle">4</text>
<text x="702.9" y="924.3" font-size="12.5" text-anchor="middle">5</text>
<text x="741.9" y="924.3" font-size="12.5" text-anchor="middle">6</text>
<text x="780.9" y="924.3" font-size="12.5" text-anchor="middle">7</text>
<text x="819.9" y="924.3" font-size="12.5" text-anchor="middle">8</text>
<text x="858.9" y="924.3" font-size="12.5" text-anchor="middle">9</text>
<text x="897.9" y="924.3" font-size="12.5" text-anchor="middle">10</text>
<rect x="589.2" y="657.4" width="12.5" height="12" fill="#8369a7"/>
<text x="608.7" y="667.8" font-size="12.5">Uploaded Records</text>
<line x1="716.6" y1="663.4" x2="739.8" y2="663.4" stroke="#f1352c" stroke-width="1.6"/>
<text x="745.6" y="667.8" font-size="12.5">National Average</text>
</svg>
<div class="bar" style="left:7.2px;top:9.1px;width:898.8px;height:25.4px;line-height:25.4px;font-size:14.46px;">Invested Assets Decile</div>
<div class="cell b" style="left:16.9px;top:41.03px;height:25.37px;line-height:25.37px;font-size:14.28px;">Value</div>
<div class="cell b r" style="left:110.1px;width:120px;top:41.03px;height:25.37px;line-height:25.37px;font-size:14.28px;">Match %</div>
<div class="cell b r" style="left:220px;width:120px;top:41.03px;height:25.37px;line-height:25.37px;font-size:14.28px;">+/- Avg</div>
<div class="cell b r" style="left:330px;width:120px;top:41.03px;height:25.37px;line-height:25.37px;font-size:14.28px;">People</div>
<div class="cell" style="left:16.9px;top:67.4px;height:25.37px;line-height:25.37px;font-size:14px;">1</div>
<div class="cell r" style="left:110.1px;width:120px;top:67.4px;height:25.37px;line-height:25.37px;font-size:14px;">20.9%</div>
<div class="cell r" style="left:220px;width:120px;top:67.4px;height:25.37px;line-height:25.37px;font-size:14px;">-6.1%</div>
<div class="cell r" style="left:330px;width:120px;top:67.4px;height:25.37px;line-height:25.37px;font-size:14px;">17,506,074</div>
<div class="cell" style="left:16.9px;top:91.77px;height:25.37px;line-height:25.37px;font-size:14px;">2</div>
<div class="cell r" style="left:110.1px;width:120px;top:91.77px;height:25.37px;line-height:25.37px;font-size:14px;">9.7%</div>
<div class="cell r" style="left:220px;width:120px;top:91.77px;height:25.37px;line-height:25.37px;font-size:14px;">0.5%</div>
<div class="cell r" style="left:330px;width:120px;top:91.77px;height:25.37px;line-height:25.37px;font-size:14px;">8,101,155</div>
<div class="cell" style="left:16.9px;top:117.14px;height:25.37px;line-height:25.37px;font-size:14px;">3</div>
<div class="cell r" style="left:110.1px;width:120px;top:117.14px;height:25.37px;line-height:25.37px;font-size:14px;">7.4%</div>
<div class="cell r" style="left:220px;width:120px;top:117.14px;height:25.37px;line-height:25.37px;font-size:14px;">1.0%</div>
<div class="cell r" style="left:330px;width:120px;top:117.14px;height:25.37px;line-height:25.37px;font-size:14px;">6,233,930</div>
<div class="cell" style="left:16.9px;top:142.51px;height:25.37px;line-height:25.37px;font-size:14px;">4</div>
<div class="cell r" style="left:110.1px;width:120px;top:142.51px;height:25.37px;line-height:25.37px;font-size:14px;">5.5%</div>
<div class="cell r" style="left:220px;width:120px;top:142.51px;height:25.37px;line-height:25.37px;font-size:14px;">1.1%</div>
<div class="cell r" style="left:330px;width:120px;top:142.51px;height:25.37px;line-height:25.37px;font-size:14px;">4,602,425</div>
<div class="cell" style="left:16.9px;top:167.88px;height:25.37px;line-height:25.37px;font-size:14px;">5</div>
<div class="cell r" style="left:110.1px;width:120px;top:167.88px;height:25.37px;line-height:25.37px;font-size:14px;">4.4%</div>
<div class="cell r" style="left:220px;width:120px;top:167.88px;height:25.37px;line-height:25.37px;font-size:14px;">1.2%</div>
<div class="cell r" style="left:330px;width:120px;top:167.88px;height:25.37px;line-height:25.37px;font-size:14px;">3,641,487</div>
<div class="cell" style="left:16.9px;top:193.25px;height:25.37px;line-height:25.37px;font-size:14px;">6</div>
<div class="cell r" style="left:110.1px;width:120px;top:193.25px;height:25.37px;line-height:25.37px;font-size:14px;">4.2%</div>
<div class="cell r" style="left:220px;width:120px;top:193.25px;height:25.37px;line-height:25.37px;font-size:14px;">1.2%</div>
<div class="cell r" style="left:330px;width:120px;top:193.25px;height:25.37px;line-height:25.37px;font-size:14px;">3,554,010</div>
<div class="cell" style="left:16.9px;top:218.62px;height:25.37px;line-height:25.37px;font-size:14px;">7</div>
<div class="cell r" style="left:110.1px;width:120px;top:218.62px;height:25.37px;line-height:25.37px;font-size:14px;">2.9%</div>
<div class="cell r" style="left:220px;width:120px;top:218.62px;height:25.37px;line-height:25.37px;font-size:14px;">1.0%</div>
<div class="cell r" style="left:330px;width:120px;top:218.62px;height:25.37px;line-height:25.37px;font-size:14px;">2,404,872</div>
<div class="cell" style="left:16.9px;top:243.99px;height:25.37px;line-height:25.37px;font-size:14px;">8</div>
<div class="cell r" style="left:110.1px;width:120px;top:243.99px;height:25.37px;line-height:25.37px;font-size:14px;">2.3%</div>
<div class="cell r" style="left:220px;width:120px;top:243.99px;height:25.37px;line-height:25.37px;font-size:14px;">0.9%</div>
<div class="cell r" style="left:330px;width:120px;top:243.99px;height:25.37px;line-height:25.37px;font-size:14px;">1,930,675</div>
<div class="cell" style="left:16.9px;top:269.36px;height:25.37px;line-height:25.37px;font-size:14px;">9</div>
<div class="cell r" style="left:110.1px;width:120px;top:269.36px;height:25.37px;line-height:25.37px;font-size:14px;">1.5%</div>
<div class="cell r" style="left:220px;width:120px;top:269.36px;height:25.37px;line-height:25.37px;font-size:14px;">0.6%</div>
<div class="cell r" style="left:330px;width:120px;top:269.36px;height:25.37px;line-height:25.37px;font-size:14px;">1,255,105</div>
<div class="cell" style="left:16.9px;top:294.73px;height:25.37px;line-height:25.37px;font-size:14px;">10</div>
<div class="cell r" style="left:110.1px;width:120px;top:294.73px;height:25.37px;line-height:25.37px;font-size:14px;">41.2%</div>
<div class="cell r" style="left:220px;width:120px;top:294.73px;height:25.37px;line-height:25.37px;font-size:14px;">-0.9%</div>
<div class="cell r" style="left:330px;width:120px;top:294.73px;height:25.37px;line-height:25.37px;font-size:14px;">34,458,621</div>
</div>
<div class="panel" id="p4" style="left:940px;top:604px;width:959px;height:344px;z-index:1;box-shadow:5px 8px 24px rgba(56,54,56,0.7);">
<svg width="959" height="344" viewBox="940 604 959 344">
<rect x="947.5" y="613.3" width="943.5" height="26.2" fill="#487bc0"/>
<line x1="954" y1="672.7" x2="1415.6" y2="672.7" stroke="#ccd8e9" stroke-width="1.4"/>
<line x1="954" y1="699.23" x2="1415.6" y2="699.23" stroke="#ccd8e9" stroke-width="1.4"/>
<line x1="954" y1="725.76" x2="1415.6" y2="725.76" stroke="#ccd8e9" stroke-width="1.4"/>
<line x1="954" y1="752.29" x2="1415.6" y2="752.29" stroke="#ccd8e9" stroke-width="1.4"/>
<line x1="954" y1="778.82" x2="1415.6" y2="778.82" stroke="#ccd8e9" stroke-width="1.4"/>
<line x1="954" y1="805.35" x2="1415.6" y2="805.35" stroke="#ccd8e9" stroke-width="1.4"/>
<line x1="954" y1="831.88" x2="1415.6" y2="831.88" stroke="#ccd8e9" stroke-width="1.4"/>
<line x1="954" y1="858.41" x2="1415.6" y2="858.41" stroke="#ccd8e9" stroke-width="1.4"/>
<line x1="954" y1="884.94" x2="1415.6" y2="884.94" stroke="#ccd8e9" stroke-width="1.4"/>
<line x1="954" y1="911.47" x2="1415.6" y2="911.47" stroke="#ccd8e9" stroke-width="1.4"/>
<line x1="954" y1="938" x2="1415.6" y2="938" stroke="#ccd8e9" stroke-width="1.4"/>
<polygon points="1485.74,863.3 1505.7,780.83 1545.62,797.68 1585.54,798.89 1625.47,804.3 1665.39,787.45 1705.31,773.6 1745.23,807.92 1785.16,829.59 1825.08,827.78 1865,847.65 1884.96,863.3" fill="#f3a160" fill-opacity="0.75"/>
<polygon points="1485.74,863.3 1505.7,695.94 1545.62,807.92 1585.54,827.18 1625.47,834.4 1665.39,803.1 1705.31,815.14 1745.23,824.17 1785.16,736.88 1825.08,822.97 1865,863.3 1884.96,863.3" fill="#8066a5" fill-opacity="0.75"/>
<line x1="1464.1" y1="687.3" x2="1464.1" y2="863.3" stroke="#8e8e8e" stroke-width="1.1"/>
<line x1="1460.6" y1="863.3" x2="1464.1" y2="863.3" stroke="#8e8e8e" stroke-width="1.1"/>
<text x="1455.4" y="868.02" font-size="13.1" text-anchor="end">0</text>
<line x1="1460.6" y1="833.2" x2="1464.1" y2="833.2" stroke="#8e8e8e" stroke-width="1.1"/>
<text x="1455.4" y="837.92" font-size="13.1" text-anchor="end">5</text>
<line x1="1460.6" y1="803.1" x2="1464.1" y2="803.1" stroke="#8e8e8e" stroke-width="1.1"/>
<text x="1455.4" y="807.82" font-size="13.1" text-anchor="end">10</text>
<line x1="1460.6" y1="773" x2="1464.1" y2="773" stroke="#8e8e8e" stroke-width="1.1"/>
<text x="1455.4" y="777.72" font-size="13.1" text-anchor="end">15</text>
<line x1="1460.6" y1="742.9" x2="1464.1" y2="742.9" stroke="#8e8e8e" stroke-width="1.1"/>
<text x="1455.4" y="747.62" font-size="13.1" text-anchor="end">20</text>
<line x1="1460.6" y1="712.8" x2="1464.1" y2="712.8" stroke="#8e8e8e" stroke-width="1.1"/>
<text x="1455.4" y="717.52" font-size="13.1" text-anchor="end">25</text>
<line x1="1464.1" y1="863.3" x2="1899" y2="863.3" stroke="#8e8e8e" stroke-width="1.1"/>
<line x1="1505.7" y1="863.3" x2="1505.7" y2="866.8" stroke="#8e8e8e" stroke-width="1.1"/>
<line x1="1545.62" y1="863.3" x2="1545.62" y2="866.8" stroke="#8e8e8e" stroke-width="1.1"/>
<line x1="1585.54" y1="863.3" x2="1585.54" y2="866.8" stroke="#8e8e8e" stroke-width="1.1"/>
<line x1="1625.47" y1="863.3" x2="1625.47" y2="866.8" stroke="#8e8e8e" stroke-width="1.1"/>
<line x1="1665.39" y1="863.3" x2="1665.39" y2="866.8" stroke="#8e8e8e" stroke-width="1.1"/>
<line x1="1705.31" y1="863.3" x2="1705.31" y2="866.8" stroke="#8e8e8e" stroke-width="1.1"/>
<line x1="1745.23" y1="863.3" x2="1745.23" y2="866.8" stroke="#8e8e8e" stroke-width="1.1"/>
<line x1="1785.16" y1="863.3" x2="1785.16" y2="866.8" stroke="#8e8e8e" stroke-width="1.1"/>
<line x1="1825.08" y1="863.3" x2="1825.08" y2="866.8" stroke="#8e8e8e" stroke-width="1.1"/>
<line x1="1865" y1="863.3" x2="1865" y2="866.8" stroke="#8e8e8e" stroke-width="1.1"/>
<text transform="translate(1515.7 881.3) rotate(-40)" font-size="13.1" text-anchor="end">&lt;$25K</text>
<text transform="translate(1555.62 881.3) rotate(-40)" font-size="13.1" text-anchor="end">$25K-$75K</text>
<text transform="translate(1595.54 881.3) rotate(-40)" font-size="13.1" text-anchor="end">$75K-$150K</text>
<text transform="translate(1635.47 881.3) rotate(-40)" font-size="13.1" text-anchor="end">$150K-$250K</text>
<text transform="translate(1675.39 881.3) rotate(-40)" font-size="13.1" text-anchor="end">$250K-$500K</text>
<text transform="translate(1715.31 881.3) rotate(-40)" font-size="13.1" text-anchor="end">$500K-$750K</text>
<text transform="translate(1755.23 881.3) rotate(-40)" font-size="13.1" text-anchor="end">$750K-$1M</text>
<text transform="translate(1795.16 881.3) rotate(-40)" font-size="13.1" text-anchor="end">$1M-$2.5M</text>
<text transform="translate(1835.08 881.3) rotate(-40)" font-size="13.1" text-anchor="end">$2.5M-$5M</text>
<text transform="translate(1875 881.3) rotate(-40)" font-size="13.1" text-anchor="end">&gt;$5M</text>
<rect x="1527" y="658.9" width="14.7" height="14.7" fill="#8066a5"/>
<text x="1548" y="671" font-size="13.1">Uploaded Records</text>
<rect x="1661.5" y="658.9" width="14.7" height="14.7" fill="#f3a160"/>
<text x="1682.5" y="671" font-size="13.1">National Average_range</text>
</svg>
<div class="bar" style="left:7.5px;top:10px;width:943.5px;height:26.2px;line-height:26.2px;font-size:15.3px;">Net Worth</div>
<div class="cell b" style="left:17.7px;top:42.97px;height:26.53px;line-height:26.53px;font-size:15.1px;">Value</div>
<div class="cell b r" style="left:121px;width:120px;top:42.97px;height:26.53px;line-height:26.53px;font-size:15.1px;">Match %</div>
<div class="cell b r" style="left:236.6px;width:120px;top:42.97px;height:26.53px;line-height:26.53px;font-size:15.1px;">+/- Avg</div>
<div class="cell b r" style="left:351.7px;width:120px;top:42.97px;height:26.53px;line-height:26.53px;font-size:15.1px;">People</div>
<div class="cell" style="left:17.7px;top:69.5px;height:26.53px;line-height:26.53px;font-size:14.8px;">&lt;$25K</div>
<div class="cell r" style="left:121px;width:120px;top:69.5px;height:26.53px;line-height:26.53px;font-size:14.8px;">27.8%</div>
<div class="cell r" style="left:236.6px;width:120px;top:69.5px;height:26.53px;line-height:26.53px;font-size:14.8px;">14.1%</div>
<div class="cell r" style="left:351.7px;width:120px;top:69.5px;height:26.53px;line-height:26.53px;font-size:14.8px;">23,246,112</div>
<div class="cell" style="left:17.7px;top:96.03px;height:26.53px;line-height:26.53px;font-size:14.8px;">$25K-$75K</div>
<div class="cell r" style="left:121px;width:120px;top:96.03px;height:26.53px;line-height:26.53px;font-size:14.8px;">9.2%</div>
<div class="cell r" style="left:236.6px;width:120px;top:96.03px;height:26.53px;line-height:26.53px;font-size:14.8px;">-1.7%</div>
<div class="cell r" style="left:351.7px;width:120px;top:96.03px;height:26.53px;line-height:26.53px;font-size:14.8px;">7,675,097</div>
<div class="cell" style="left:17.7px;top:122.56px;height:26.53px;line-height:26.53px;font-size:14.8px;">$75K-$150K</div>
<div class="cell r" style="left:121px;width:120px;top:122.56px;height:26.53px;line-height:26.53px;font-size:14.8px;">6.0%</div>
<div class="cell r" style="left:236.6px;width:120px;top:122.56px;height:26.53px;line-height:26.53px;font-size:14.8px;">-4.7%</div>
<div class="cell r" style="left:351.7px;width:120px;top:122.56px;height:26.53px;line-height:26.53px;font-size:14.8px;">5,042,279</div>
<div class="cell" style="left:17.7px;top:149.09px;height:26.53px;line-height:26.53px;font-size:14.8px;">$150K-$250K</div>
<div class="cell r" style="left:121px;width:120px;top:149.09px;height:26.53px;line-height:26.53px;font-size:14.8px;">4.8%</div>
<div class="cell r" style="left:236.6px;width:120px;top:149.09px;height:26.53px;line-height:26.53px;font-size:14.8px;">-5.0%</div>
<div class="cell r" style="left:351.7px;width:120px;top:149.09px;height:26.53px;line-height:26.53px;font-size:14.8px;">4,058,618</div>
<div class="cell" style="left:17.7px;top:175.62px;height:26.53px;line-height:26.53px;font-size:14.8px;">$250K-$500K</div>
<div class="cell r" style="left:121px;width:120px;top:175.62px;height:26.53px;line-height:26.53px;font-size:14.8px;">10.0%</div>
<div class="cell r" style="left:236.6px;width:120px;top:175.62px;height:26.53px;line-height:26.53px;font-size:14.8px;">-2.6%</div>
<div class="cell r" style="left:351.7px;width:120px;top:175.62px;height:26.53px;line-height:26.53px;font-size:14.8px;">8,404,461</div>
<div class="cell" style="left:17.7px;top:202.15px;height:26.53px;line-height:26.53px;font-size:14.8px;">$500K-$750K</div>
<div class="cell r" style="left:121px;width:120px;top:202.15px;height:26.53px;line-height:26.53px;font-size:14.8px;">8.0%</div>
<div class="cell r" style="left:236.6px;width:120px;top:202.15px;height:26.53px;line-height:26.53px;font-size:14.8px;">-6.9%</div>
<div class="cell r" style="left:351.7px;width:120px;top:202.15px;height:26.53px;line-height:26.53px;font-size:14.8px;">6,689,298</div>
<div class="cell" style="left:17.7px;top:228.68px;height:26.53px;line-height:26.53px;font-size:14.8px;">$750K-$1M</div>
<div class="cell r" style="left:121px;width:120px;top:228.68px;height:26.53px;line-height:26.53px;font-size:14.8px;">6.5%</div>
<div class="cell r" style="left:236.6px;width:120px;top:228.68px;height:26.53px;line-height:26.53px;font-size:14.8px;">-2.7%</div>
<div class="cell r" style="left:351.7px;width:120px;top:228.68px;height:26.53px;line-height:26.53px;font-size:14.8px;">5,422,226</div>
<div class="cell" style="left:17.7px;top:255.21px;height:26.53px;line-height:26.53px;font-size:14.8px;">$1M-$2.5M</div>
<div class="cell r" style="left:121px;width:120px;top:255.21px;height:26.53px;line-height:26.53px;font-size:14.8px;">21.0%</div>
<div class="cell r" style="left:236.6px;width:120px;top:255.21px;height:26.53px;line-height:26.53px;font-size:14.8px;">15.4%</div>
<div class="cell r" style="left:351.7px;width:120px;top:255.21px;height:26.53px;line-height:26.53px;font-size:14.8px;">17,558,311</div>
<div class="cell" style="left:17.7px;top:281.74px;height:26.53px;line-height:26.53px;font-size:14.8px;">$2.5M-$5M</div>
<div class="cell r" style="left:121px;width:120px;top:281.74px;height:26.53px;line-height:26.53px;font-size:14.8px;">6.7%</div>
<div class="cell r" style="left:236.6px;width:120px;top:281.74px;height:26.53px;line-height:26.53px;font-size:14.8px;">0.8%</div>
<div class="cell r" style="left:351.7px;width:120px;top:281.74px;height:26.53px;line-height:26.53px;font-size:14.8px;">5,591,954</div>
<div class="cell" style="left:17.7px;top:308.27px;height:26.53px;line-height:26.53px;font-size:14.8px;">&gt;$5M</div>
<div class="cell r" style="left:121px;width:120px;top:308.27px;height:26.53px;line-height:26.53px;font-size:14.8px;">0.0%</div>
<div class="cell r" style="left:236.6px;width:120px;top:308.27px;height:26.53px;line-height:26.53px;font-size:14.8px;">-2.6%</div>
<div class="cell r" style="left:351.7px;width:120px;top:308.27px;height:26.53px;line-height:26.53px;font-size:14.8px;">0</div>
</div>
<div class="note" style="left:954.3px;top:497.04px;height:34px;line-height:34px;font-size:27.88px;">1= Highest Discretionary Income</div>
<div class="note" style="left:954.3px;top:531.04px;height:34px;line-height:34px;font-size:27.88px;">10= Lowest Discretionary Income</div>
<div class="note" style="left:34.9px;top:941.14px;height:34px;line-height:34px;font-size:27.88px;">1= Highest Invested Assets</div>
<div class="note" style="left:34.9px;top:974.94px;height:34px;line-height:34px;font-size:27.88px;">10= Lowest Invested Assets</div>
<div class="note" style="left:34.9px;top:1008.34px;height:34px;line-height:34px;font-size:27.88px;">Invested assets does not include home equity</div>
<div class="abs" style="left:1749.3px;top:1017.4px;font-size:21px;line-height:26px;letter-spacing:0.4px;color:#8f96a8;font-family:'DejaVu Sans Condensed','DejaVu Sans','Liberation Sans',sans-serif;">18</div>
</body></html>
